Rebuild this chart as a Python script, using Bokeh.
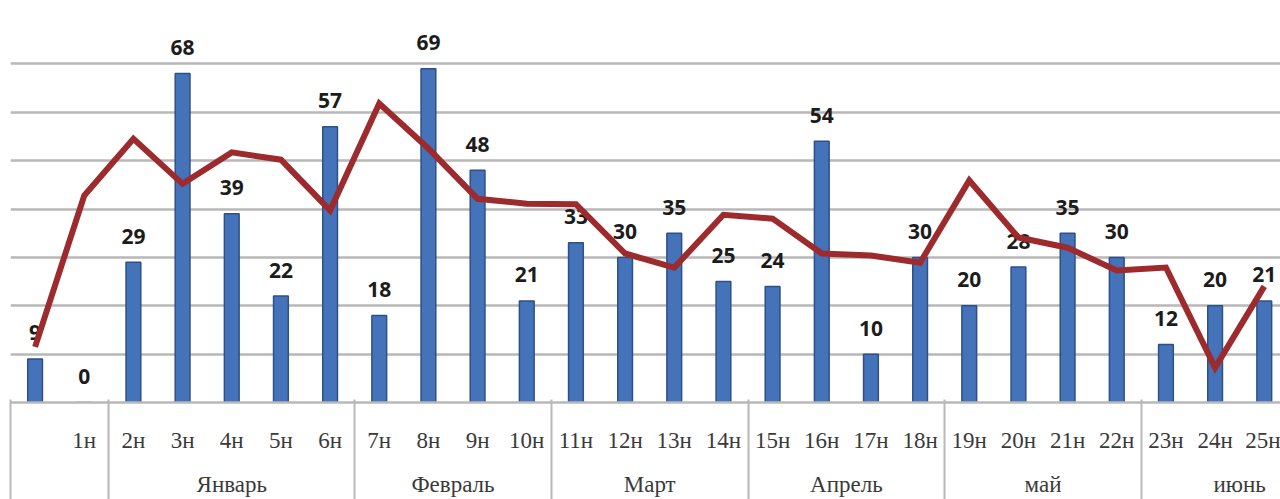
from bokeh.plotting import figure
from bokeh.models import ColumnDataSource, LinearAxis, FixedTicker, Range1d
from bokeh.embed import file_html
from bokeh.resources import INLINE
from bokeh.core.properties import value

# Weekly counts (bars) with the trend line drawn across them
weeks = ["", "1н", "2н", "3н", "4н", "5н", "6н", "7н", "8н", "9н", "10н", "11н", "12н",
         "13н", "14н", "15н", "16н", "17н", "18н", "19н", "20н", "21н", "22н", "23н",
         "24н", "25н"]
counts = [9, 0, 29, 68, 39, 22, 57, 18, 69, 48, 21, 33, 30, 35, 25, 24, 54, 10, 30,
          20, 28, 35, 30, 12, 20, 21]
trend = [11.5, 42.8, 54.5, 45.2, 51.7, 50.2, 39.7, 61.8, 52.5, 42.1, 41.1, 41.0, 30.8,
         27.9, 38.8, 38.0, 30.8, 30.4, 28.9, 45.9, 34.1, 32.0, 27.3, 27.9, 7.2, 24.0]

# Month groups on the second axis level; June runs on past the right edge of the view
months = ["", "Январь", "Февраль", "Март", "Апрель", "май", "июнь"]
month_sizes = [2, 5, 4, 4, 4, 4, 4]

y_ticks = [0, 10, 20, 30, 40, 50, 60, 70, 80]

idx = list(range(len(weeks)))
edges = [-0.5]
for n in month_sizes:
    edges.append(edges[-1] + n)
centers = [(a + b) / 2 for a, b in zip(edges[:-1], edges[1:])]

src = ColumnDataSource(dict(x=idx, counts=counts, trend=trend,
                            lbl=[str(c) for c in counts]))

GRID = "#b8b8b8"

p = figure(width=1280, height=499,
           x_range=Range1d(-0.5, 25.33), y_range=Range1d(0, 80),
           output_backend="svg", toolbar_location=None,
           x_axis_location=None, y_axis_location=None,
           min_border_left=10, min_border_right=0, min_border_top=15,
           min_border_bottom=0)
p.outline_line_color = None
p.background_fill_color = "white"
p.border_fill_color = "white"
p.xgrid.visible = False
p.ygrid.ticker = FixedTicker(ticks=y_ticks)
p.ygrid.grid_line_color = GRID
p.ygrid.grid_line_width = 2.5

# First axis level: week names
week_axis = LinearAxis(ticker=FixedTicker(ticks=idx),
                       major_label_overrides={i: w for i, w in zip(idx, weeks)})
week_axis.major_tick_in = 0
week_axis.major_tick_out = 0
week_axis.axis_line_color = GRID
week_axis.axis_line_width = 2.5
week_axis.major_label_standoff = 25
week_axis.major_label_text_font = "Liberation Serif"
week_axis.major_label_text_font_size = "23px"
week_axis.major_label_text_color = "#3a3a3a"
p.add_layout(week_axis, "below")

# Second axis level: month names
month_axis = LinearAxis(ticker=FixedTicker(ticks=centers),
                        major_label_overrides={c: m for c, m in zip(centers, months)})
month_axis.axis_line_color = None
month_axis.major_tick_in = 0
month_axis.major_tick_out = 0
month_axis.major_label_standoff = 16
month_axis.major_label_text_font = "Liberation Serif"
month_axis.major_label_text_font_size = "23px"
month_axis.major_label_text_color = "#3a3a3a"
p.add_layout(month_axis, "below")

# Separators between month groups, reaching up through both label rows
edge_axis = LinearAxis(ticker=FixedTicker(ticks=[], minor_ticks=edges))
edge_axis.axis_line_color = None
edge_axis.major_tick_in = 0
edge_axis.major_tick_out = 0
edge_axis.minor_tick_in = 100
edge_axis.minor_tick_out = 0
edge_axis.minor_tick_line_color = GRID
edge_axis.minor_tick_line_width = 2
edge_axis.major_label_standoff = 0
p.add_layout(edge_axis, "below")

p.vbar(x="x", top="counts", bottom=0, width=0.3, source=src,
       fill_color="#4473b9", line_color="#2d5088", line_width=1.5)

p.text(x="x", y="counts", text="lbl", source=src, y_offset=-26,
       text_align="center", text_baseline="middle",
       text_font=value("Open Sans"), text_font_style="bold",
       text_font_size="21px", text_color="#1c1c1c")

p.line(x="x", y="trend", source=src, line_width=6, line_color="#9d2b2d",
       line_join="miter")

with open("out.html", "w") as f:
    f.write(file_html(p, INLINE))
